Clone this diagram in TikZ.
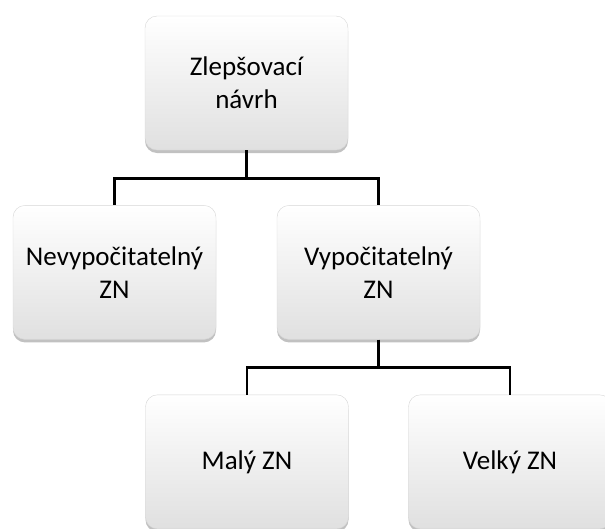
\documentclass[tikz,border=0pt]{standalone}
\usepackage{fontspec}
\setmainfont{Carlito}
\usepackage{tikz}
\usetikzlibrary{
  positioning,
  calc,
  shadows
}
\definecolor{znShade}{HTML}{E0E0E0}
\definecolor{znEdge}{HTML}{D6D6D6}
\tikzset{
  znbox/.style={
    rounded corners=12pt, minimum width=203pt, minimum height=134pt,
    font=\fontsize{27}{33}\selectfont, align=center, inner sep=2pt,
    draw=znEdge, line width=0.4pt,
    top color=white, middle color=white, bottom color=znShade,
    drop shadow={shadow xshift=0pt, shadow yshift=-3pt, opacity=0.35, fill=black!70}
  },
  orgline/.style={line width=2.8pt, black}
}

\begin{document}
\begin{tikzpicture}[x=1pt, y=-1pt, node distance=55pt]
  \useasboundingbox (0,0) rectangle (605,528);
  \clip (0,0) rectangle (605,528);
  % boxes
  \coordinate (topc) at (246.5,83);
  \node[znbox] (top) at (topc) {Zlepšovací\\návrh};
  \node[znbox, below=of top, xshift=-132pt] (nevyp) {Nevypočitatelný\\ZN};
  \node[znbox, below=of top, xshift=132pt] (vyp) {Vypočitatelný\\ZN};
  \node[znbox, below=of vyp, xshift=-131.5pt] (maly) {Malý ZN};
  \node[znbox, below=of vyp, xshift=131.5pt] (velky) {Velký ZN};
  % tree lines
  \draw[orgline] (top.south) -- ++(0,28) coordinate (j1) -| (nevyp.north);
  \draw[orgline] (j1) -| (vyp.north);
  \draw[orgline] (vyp.south) -- ++(0,28) coordinate (j2) -| (maly.north);
  \draw[orgline] (j2) -| (velky.north);
\end{tikzpicture}
\end{document}
